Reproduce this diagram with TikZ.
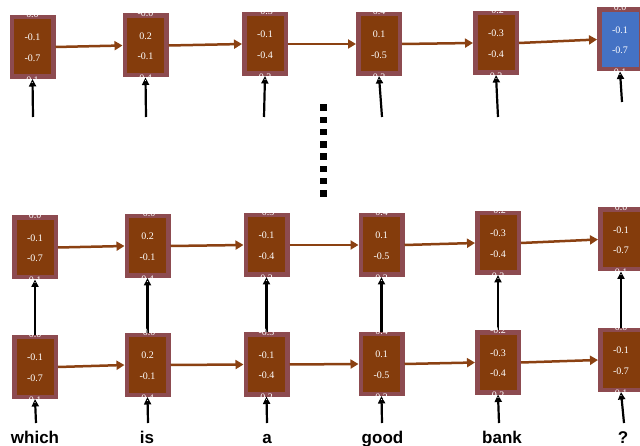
\documentclass[tikz,border=0pt]{standalone}
\usepackage{fontspec}
\setmainfont{Liberation Serif}
\newfontfamily\wordfont{Liberation Sans}
\usetikzlibrary{arrows.meta}
\definecolor{cellbrown}{RGB}{132,60,12}
\definecolor{cellrim}{RGB}{141,75,80}
\definecolor{cellblue}{RGB}{68,114,196}
\definecolor{arrbrown}{RGB}{139,65,18}
\tikzset{
  cell/.style={draw=cellrim, fill=cellbrown, line width=4.5pt, minimum width=41.5pt, minimum height=59.5pt, inner sep=0pt},
  val/.style={text=white, font=\fontsize{10}{10}\selectfont, inner sep=0pt},
  word/.style={font=\wordfont\bfseries\fontsize{17}{17}\selectfont, anchor=base, inner sep=0pt},
  harrow/.style={draw=arrbrown, line width=2.5pt, -{Triangle[length=8pt,width=9pt]}},
  varrow/.style={draw=black, line width=2.2pt, -{Triangle[length=7.5pt,width=7pt]}},
}
\newcommand{\cellvals}[5]{%
  \node[val] (#1a) at ([yshift=32.5pt]#1.center) {#2};
  \node[val] (#1b) at ([yshift=9.5pt]#1.center) {#3};
  \node[val] (#1c) at ([yshift=-11pt]#1.center) {#4};
  \node[val] (#1d) at ([yshift=-33pt]#1.center) {#5};}
\begin{document}
\begin{tikzpicture}[x=1pt,y=-1pt]
\useasboundingbox (0,0) rectangle (640,446);
% row 1 (top)
\node[cell] (a1) at (32.5,47) {};
\node[cell] (a2) at (145.5,45.5) {};
\node[cell] (a3) at (265,44) {};
\node[cell] (a4) at (379,44) {};
\node[cell] (a5) at (496,43) {};
\node[cell,fill=cellblue] (a6) at (620,39.5) {};
% row 2
\node[cell] (b1) at (35,247.5) {};
\node[cell] (b2) at (147.5,246) {};
\node[cell] (b3) at (266.5,245) {};
\node[cell] (b4) at (381.5,245) {};
\node[cell] (b5) at (498,243) {};
\node[cell] (b6) at (621,239.5) {};
% row 3
\node[cell] (c1) at (35,367) {};
\node[cell] (c2) at (147.5,365) {};
\node[cell] (c3) at (266.5,364.5) {};
\node[cell] (c4) at (381.5,364) {};
\node[cell] (c5) at (498,362.5) {};
\node[cell] (c6) at (621,360) {};
% horizontal arrows
\foreach \r in {a,b,c}{
  \draw[harrow] (\r1.east) -- (\r2.west);
  \draw[harrow] (\r2.east) -- (\r3.west);
  \draw[harrow] (\r3.east) -- (\r4.west);
  \draw[harrow] (\r4.east) -- (\r5.west);
  \draw[harrow] (\r5.east) -- (\r6.west);
}
% free tails into top row
\coordinate (ta1) at (33,117);
\coordinate (ta2) at (146,117);
\coordinate (ta3) at (264,117);
\coordinate (ta4) at (382,117);
\coordinate (ta5) at (498,117);
\coordinate (ta6) at (622,102);
\foreach \i in {1,...,6}{\draw[varrow] (ta\i) -- (a\i.south);}
% row 3 -> row 2
\foreach \i in {1,...,6}{\draw[varrow] (c\i.north) -- (b\i.south);}
% words -> row 3
\node[word] (w1) at (35,443) {which};
\node[word] (w2) at (147,443) {is};
\node[word] (w3) at (267,443) {a};
\node[word] (w4) at (382.5,443) {good};
\node[word] (w5) at (502,443) {bank};
\node[word] (w6) at (623,443) {?};
\coordinate (tc1) at (36,423);
\coordinate (tc2) at (148,423);
\coordinate (tc3) at (267,423);
\coordinate (tc4) at (382,423);
\coordinate (tc5) at (499,423);
\coordinate (tc6) at (624,423);
\foreach \i in {1,...,6}{\draw[varrow] (tc\i) -- (c\i.south);}
% values
\foreach \r in {a,b,c}{
  \cellvals{\r1}{0.0}{-0.1}{-0.7}{0.1}
  \cellvals{\r2}{-0.0}{0.2}{-0.1}{0.4}
  \cellvals{\r3}{-0.3}{-0.1}{-0.4}{0.2}
  \cellvals{\r4}{0.4}{0.1}{-0.5}{0.2}
  \cellvals{\r5}{-0.2}{-0.3}{-0.4}{0.2}
  \cellvals{\r6}{0.0}{-0.1}{-0.7}{0.1}
}
% vertical ellipsis
\foreach \i in {0,...,7}{\fill (320,{104.3+12.28*\i}) rectangle ++(6.5,6.5);}
\end{tikzpicture}
\end{document}
